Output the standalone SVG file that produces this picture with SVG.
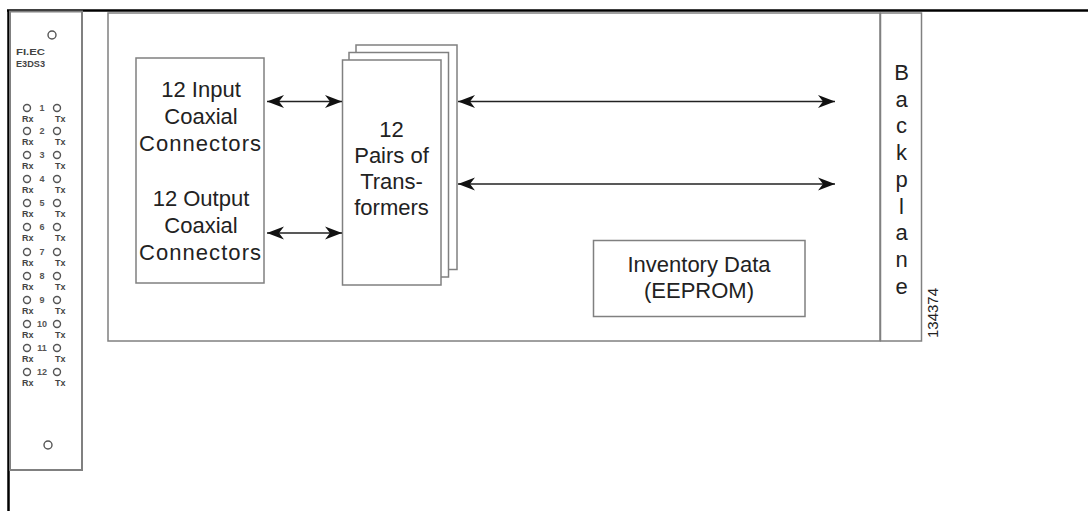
<svg xmlns="http://www.w3.org/2000/svg" width="1088" height="511" viewBox="0 0 1088 511">
<style>
.box{fill:#fff;stroke:#808080;stroke-width:1.5}
.t{font-family:"Liberation Sans",Arial,sans-serif;font-size:22px;fill:#222;text-anchor:middle}
.s{font-family:"Liberation Sans",Arial,sans-serif;font-size:9px;font-weight:bold;fill:#444}
.sm{font-family:"Liberation Sans",Arial,sans-serif;font-size:9px;font-weight:bold;fill:#555;text-anchor:middle}
.c{fill:#fff;stroke:#555;stroke-width:1.4}
.ar{stroke:#222;stroke-width:1.6;fill:none;marker-start:url(#ah);marker-end:url(#ah)}
</style>
<defs>
<marker id="ah" markerUnits="userSpaceOnUse" markerWidth="18" markerHeight="14" refX="17" refY="7" orient="auto-start-reverse" viewBox="0 0 18 14">
<path d="M0,0.5 L17,7 L0,13.5 L5,7 Z" fill="#111"/>
</marker>
</defs>
<rect width="1088" height="511" fill="#fff"/>
<g id="frame">
<line x1="7" y1="10.5" x2="1088" y2="10.5" stroke="#000" stroke-width="2.5"/>
<line x1="8.5" y1="10" x2="8.5" y2="511" stroke="#000" stroke-width="2.5"/>
</g>
<g id="front-panel">
<rect x="10" y="11.5" width="72" height="458.5" fill="#fff" stroke="#808080" stroke-width="2"/>
<circle class="c" cx="52" cy="35" r="4"/>
<text class="s" x="16" y="55" textLength="29" lengthAdjust="spacingAndGlyphs">FI.EC</text>
<text class="s" x="16" y="67" textLength="29" lengthAdjust="spacingAndGlyphs">E3DS3</text>
<g id="ports">
<circle class="c" cx="27" cy="108" r="3.5"/><text class="sm" x="42" y="111">1</text><circle class="c" cx="57" cy="108" r="3.5"/><text class="s" x="22" y="122">Rx</text><text class="s" x="55" y="122">Tx</text>
<circle class="c" cx="27" cy="131" r="3.5"/><text class="sm" x="42" y="134">2</text><circle class="c" cx="57" cy="131" r="3.5"/><text class="s" x="22" y="145">Rx</text><text class="s" x="55" y="145">Tx</text>
<circle class="c" cx="27" cy="155" r="3.5"/><text class="sm" x="42" y="158">3</text><circle class="c" cx="57" cy="155" r="3.5"/><text class="s" x="22" y="169">Rx</text><text class="s" x="55" y="169">Tx</text>
<circle class="c" cx="27" cy="179" r="3.5"/><text class="sm" x="42" y="182">4</text><circle class="c" cx="57" cy="179" r="3.5"/><text class="s" x="22" y="193">Rx</text><text class="s" x="55" y="193">Tx</text>
<circle class="c" cx="27" cy="203" r="3.5"/><text class="sm" x="42" y="206">5</text><circle class="c" cx="57" cy="203" r="3.5"/><text class="s" x="22" y="217">Rx</text><text class="s" x="55" y="217">Tx</text>
<circle class="c" cx="27" cy="227" r="3.5"/><text class="sm" x="42" y="230">6</text><circle class="c" cx="57" cy="227" r="3.5"/><text class="s" x="22" y="241">Rx</text><text class="s" x="55" y="241">Tx</text>
<circle class="c" cx="27" cy="252" r="3.5"/><text class="sm" x="42" y="255">7</text><circle class="c" cx="57" cy="252" r="3.5"/><text class="s" x="22" y="266">Rx</text><text class="s" x="55" y="266">Tx</text>
<circle class="c" cx="27" cy="276" r="3.5"/><text class="sm" x="42" y="279">8</text><circle class="c" cx="57" cy="276" r="3.5"/><text class="s" x="22" y="290">Rx</text><text class="s" x="55" y="290">Tx</text>
<circle class="c" cx="27" cy="300" r="3.5"/><text class="sm" x="42" y="303">9</text><circle class="c" cx="57" cy="300" r="3.5"/><text class="s" x="22" y="314">Rx</text><text class="s" x="55" y="314">Tx</text>
<circle class="c" cx="27" cy="324" r="3.5"/><text class="sm" x="42" y="327">10</text><circle class="c" cx="57" cy="324" r="3.5"/><text class="s" x="22" y="338">Rx</text><text class="s" x="55" y="338">Tx</text>
<circle class="c" cx="27" cy="348" r="3.5"/><text class="sm" x="42" y="351">11</text><circle class="c" cx="57" cy="348" r="3.5"/><text class="s" x="22" y="362">Rx</text><text class="s" x="55" y="362">Tx</text>
<circle class="c" cx="27" cy="372" r="3.5"/><text class="sm" x="42" y="375">12</text><circle class="c" cx="57" cy="372" r="3.5"/><text class="s" x="22" y="386">Rx</text><text class="s" x="55" y="386">Tx</text>
</g>
<circle class="c" cx="48" cy="445" r="4"/>
</g>
<g id="board">
<rect class="box" x="108" y="13" width="772" height="328"/>
</g>
<g id="backplane">
<rect class="box" x="880.5" y="13" width="41" height="328"/>
<text class="t" x="901.5" y="80">B</text>
<text class="t" x="901.5" y="107">a</text>
<text class="t" x="901.5" y="133">c</text>
<text class="t" x="901.5" y="160">k</text>
<text class="t" x="901.5" y="187">p</text>
<text class="t" x="901.5" y="214">l</text>
<text class="t" x="901.5" y="240">a</text>
<text class="t" x="901.5" y="267">n</text>
<text class="t" x="901.5" y="294">e</text>
</g>
<g id="connectors-box">
<rect class="box" x="136" y="58" width="128" height="225"/>
<text class="t" x="201" y="97">12 Input</text>
<text class="t" x="201" y="124">Coaxial</text>
<text class="t" x="200" y="151" textLength="122" lengthAdjust="spacing">Connectors</text>
<text class="t" x="201" y="206">12 Output</text>
<text class="t" x="201" y="233">Coaxial</text>
<text class="t" x="200" y="260" textLength="122" lengthAdjust="spacing">Connectors</text>
</g>
<g id="transformers">
<rect class="box" x="356" y="45" width="101" height="224.5"/>
<rect class="box" x="349" y="52.5" width="99.5" height="224.5"/>
<rect class="box" x="342.5" y="60" width="98.5" height="225"/>
<text class="t" x="391.5" y="137">12</text>
<text class="t" x="391.5" y="163">Pairs of</text>
<text class="t" x="391.5" y="189">Trans-</text>
<text class="t" x="391.5" y="215">formers</text>
</g>
<g id="inventory">
<rect class="box" x="593.5" y="240.5" width="211.5" height="76"/>
<text class="t" x="699" y="272">Inventory Data</text>
<text class="t" x="699" y="298">(EEPROM)</text>
</g>
<g id="connectors">
<line class="ar" x1="267" y1="101.5" x2="342" y2="101.5"/>
<line class="ar" x1="267" y1="233" x2="342" y2="233"/>
<line class="ar" x1="458" y1="101.5" x2="835" y2="101.5"/>
<line class="ar" x1="458" y1="184" x2="835" y2="184"/>
</g>
<text x="938" y="313" transform="rotate(-90 938 313)" font-family="'Liberation Sans',Arial,sans-serif" font-size="14" fill="#222" text-anchor="middle" textLength="50" lengthAdjust="spacingAndGlyphs">134374</text>
</svg>
